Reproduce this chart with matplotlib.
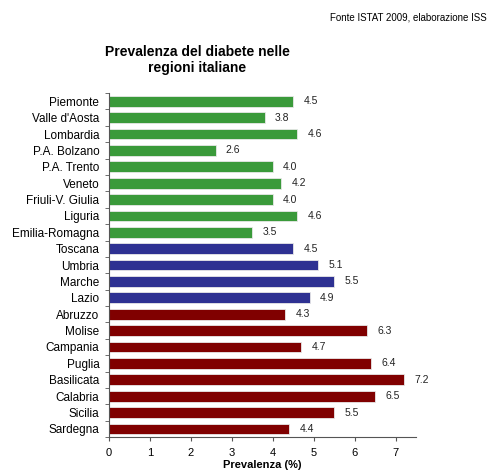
import matplotlib

matplotlib.use("Agg")
import matplotlib.pyplot as plt
import numpy as np

plt.rcParams["font.family"] = ["Liberation Sans", "DejaVu Sans"]

# Data
regions = [
    "Piemonte", "Valle d'Aosta", "Lombardia", "P.A. Bolzano", "P.A. Trento",
    "Veneto", "Friuli-V. Giulia", "Liguria", "Emilia-Romagna", "Toscana",
    "Umbria", "Marche", "Lazio", "Abruzzo", "Molise", "Campania", "Puglia",
    "Basilicata", "Calabria", "Sicilia", "Sardegna",
]
prevalence = [4.5, 3.8, 4.6, 2.6, 4.0, 4.2, 4.0, 4.6, 3.5, 4.5,
              5.1, 5.5, 4.9, 4.3, 6.3, 4.7, 6.4, 7.2, 6.5, 5.5, 4.4]
area = ["nord"] * 9 + ["centro"] * 4 + ["sud"] * 8

area_colors = {"nord": "#3a9a3a", "centro": "#2e3192", "sud": "#800000"}
colors = [area_colors[a] for a in area]

fig = plt.figure(figsize=(4.89, 4.70), dpi=100)
ax = fig.add_axes([0.223, 0.070, 0.628, 0.732])

y = np.arange(len(regions))
ax.barh(y, prevalence, height=0.66, color=colors, edgecolor="#e8e8e8", linewidth=0.6)

for yi, v in zip(y, prevalence):
    ax.text(v + 0.25, yi, f"{v:.1f}", va="center", ha="left", fontsize=7.5, color="#222222")

ax.set_ylim(len(regions) - 0.5, -0.5)
ax.set_xlim(0, 7.5)
ax.set_xticks(range(8))
ax.set_yticks(y)
ax.set_yticklabels(regions, fontsize=8.5)
ax.set_yticks(np.arange(-0.5, len(regions), 1), minor=True)
ax.tick_params(axis="y", which="major", length=0, pad=7)
ax.tick_params(axis="y", which="minor", length=3, color="#555555")
ax.tick_params(axis="x", length=3, labelsize=8, color="#555555", pad=5)

for s in ("top", "right"):
    ax.spines[s].set_visible(False)
for s in ("left", "bottom"):
    ax.spines[s].set_color("#555555")
    ax.spines[s].set_linewidth(0.8)

ax.set_xlabel("Prevalenza (%)", fontsize=8, fontweight="bold", labelpad=1)

fig.text(0.403, 0.872, "Prevalenza del diabete nelle\nregioni italiane",
         ha="center", va="center", fontsize=10, fontweight="bold", linespacing=1.15)
fig.text(0.995, 0.962, "Fonte ISTAT 2009, elaborazione ISS",
         ha="right", va="center", fontsize=7)

fig.savefig("out.png", dpi=100)
